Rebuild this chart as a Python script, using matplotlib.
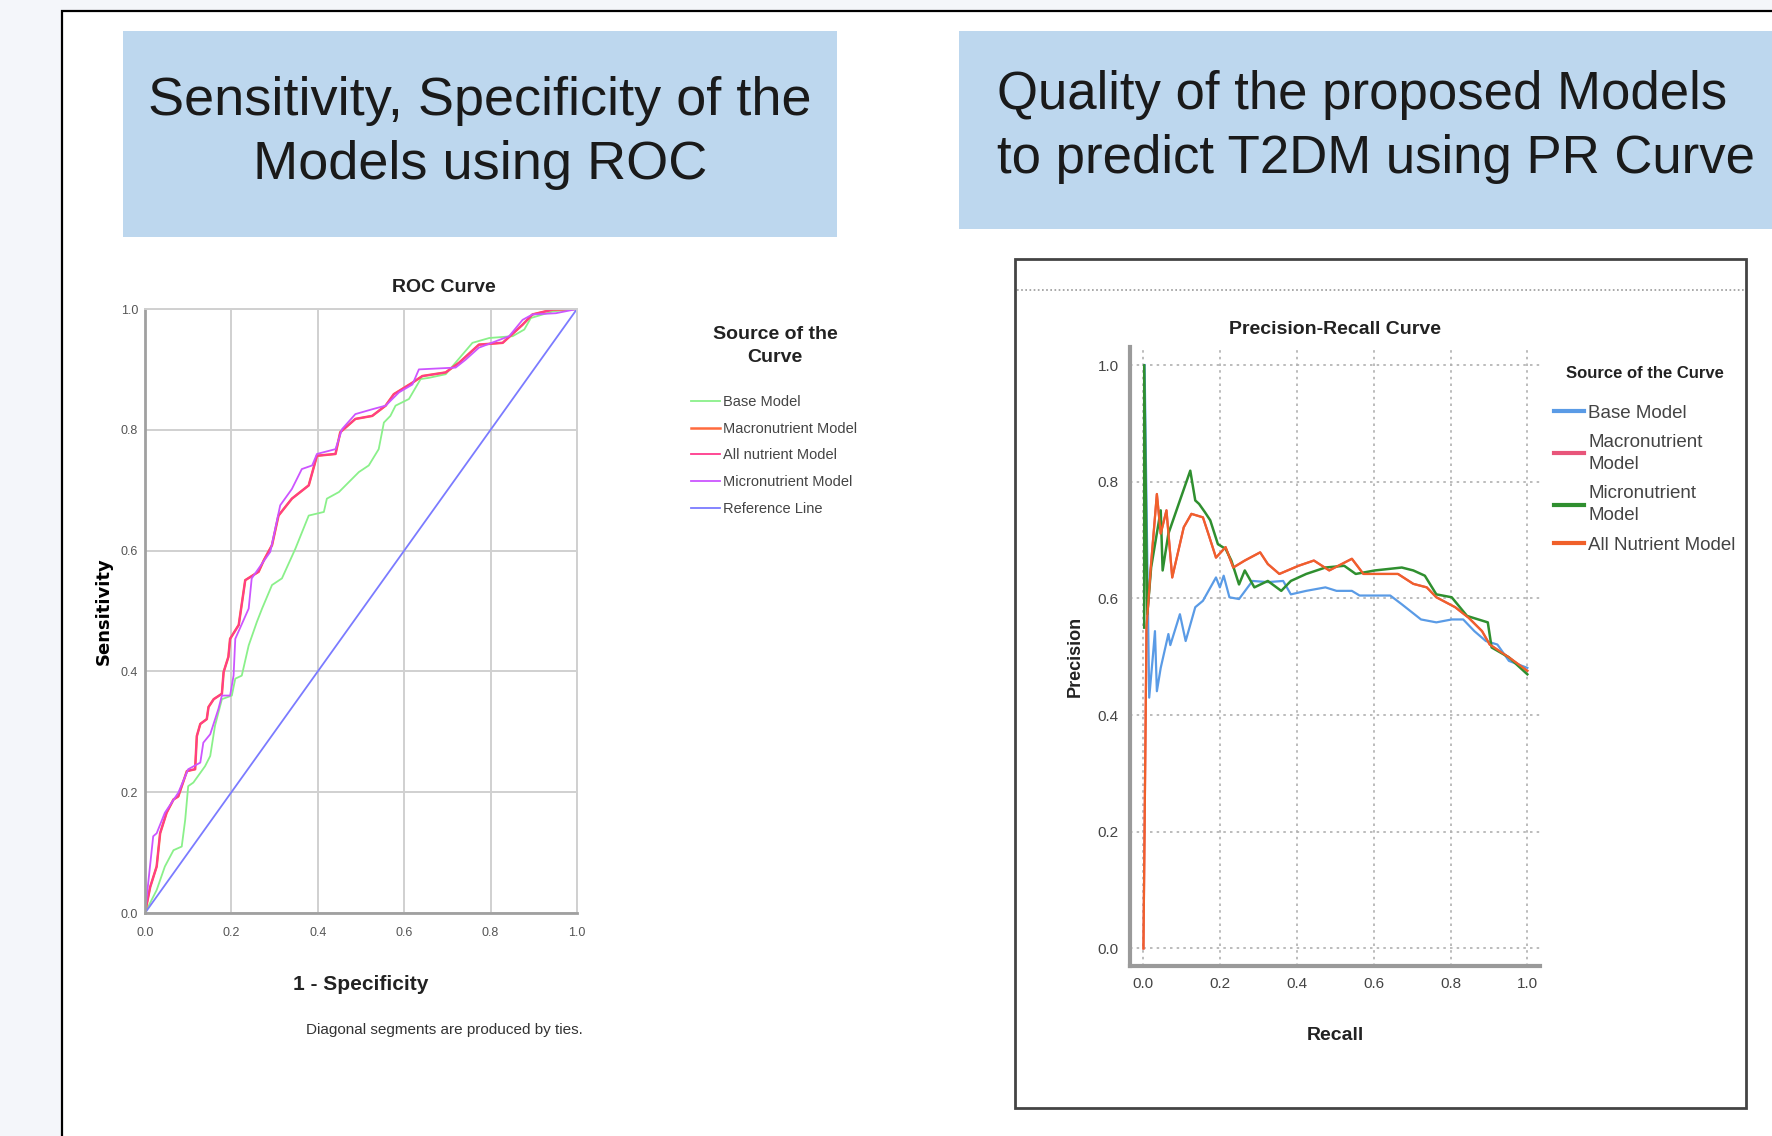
import matplotlib
matplotlib.use('Agg')
import matplotlib.pyplot as plt
from matplotlib.patches import Rectangle
from matplotlib.lines import Line2D

W, H = 1772, 1136

# ROC curves: (1 - specificity, sensitivity)
base_fpr = [0.0, 0.027, 0.046, 0.066, 0.085, 0.093, 0.100, 0.112, 0.139, 0.151, 0.162, 0.178,
            0.201, 0.209, 0.224, 0.240, 0.259, 0.271, 0.294, 0.317, 0.348, 0.379, 0.414, 0.421,
            0.449, 0.495, 0.518, 0.541, 0.553, 0.568, 0.580, 0.611, 0.638, 0.657, 0.696, 0.758,
            0.797, 0.851, 0.878, 0.893, 0.944, 1.0]
base_tpr = [0.0, 0.038, 0.077, 0.104, 0.110, 0.154, 0.210, 0.216, 0.243, 0.260, 0.310, 0.354,
            0.360, 0.388, 0.393, 0.443, 0.482, 0.504, 0.543, 0.554, 0.603, 0.658, 0.664, 0.686,
            0.697, 0.730, 0.741, 0.768, 0.812, 0.823, 0.840, 0.851, 0.884, 0.886, 0.892, 0.944,
            0.952, 0.955, 0.966, 0.985, 0.996, 1.0]

allnut_fpr = [0.0, 0.012, 0.027, 0.035, 0.050, 0.066, 0.077, 0.097, 0.116, 0.120, 0.128, 0.143,
              0.147, 0.159, 0.178, 0.182, 0.193, 0.197, 0.217, 0.232, 0.263, 0.275, 0.294, 0.309,
              0.340, 0.379, 0.398, 0.441, 0.452, 0.487, 0.526, 0.557, 0.576, 0.619, 0.642, 0.696,
              0.727, 0.773, 0.828, 0.874, 0.897, 0.944, 1.0]
allnut_tpr = [0.0, 0.043, 0.077, 0.132, 0.166, 0.188, 0.193, 0.235, 0.238, 0.293, 0.313, 0.321,
              0.341, 0.354, 0.363, 0.399, 0.424, 0.454, 0.477, 0.551, 0.565, 0.584, 0.609, 0.658,
              0.686, 0.708, 0.757, 0.760, 0.796, 0.818, 0.823, 0.840, 0.859, 0.878, 0.889, 0.895,
              0.911, 0.941, 0.944, 0.974, 0.991, 0.999, 1.0]

# macronutrient curve sits right under the all nutrient one
macro_fpr = allnut_fpr
macro_tpr = allnut_tpr

micro_fpr = [0.0, 0.019, 0.027, 0.046, 0.077, 0.100, 0.128, 0.135, 0.151, 0.170, 0.178, 0.197,
             0.205, 0.209, 0.240, 0.247, 0.290, 0.313, 0.340, 0.363, 0.387, 0.398, 0.441, 0.456,
             0.487, 0.526, 0.557, 0.588, 0.619, 0.634, 0.719, 0.742, 0.773, 0.843, 0.874, 0.897,
             0.951, 1.0]
micro_tpr = [0.0, 0.127, 0.132, 0.166, 0.199, 0.238, 0.249, 0.282, 0.296, 0.338, 0.360, 0.360,
             0.393, 0.454, 0.504, 0.554, 0.598, 0.675, 0.702, 0.735, 0.741, 0.760, 0.768, 0.801,
             0.826, 0.834, 0.840, 0.862, 0.875, 0.900, 0.903, 0.916, 0.936, 0.955, 0.982, 0.991,
             0.993, 1.0]

ref_line = [0.0, 1.0]

# precision-recall curves: (recall, precision)
base_recall = [0.003, 0.003, 0.015, 0.025, 0.030, 0.035, 0.045, 0.065, 0.070, 0.095, 0.110, 0.135,
               0.155, 0.189, 0.199, 0.209, 0.224, 0.249, 0.284, 0.324, 0.364, 0.384, 0.424, 0.474,
               0.503, 0.543, 0.563, 0.643, 0.673, 0.723, 0.763, 0.803, 0.833, 0.862, 0.892, 0.922,
               0.952, 1.0]
base_precision = [1.0, 1.0, 0.430, 0.504, 0.544, 0.441, 0.481, 0.539, 0.520, 0.573, 0.527, 0.585,
                  0.596, 0.636, 0.619, 0.639, 0.602, 0.599, 0.630, 0.628, 0.630, 0.607, 0.613, 0.619,
                  0.613, 0.613, 0.605, 0.605, 0.590, 0.564, 0.559, 0.564, 0.564, 0.544, 0.527, 0.521,
                  0.493, 0.481]

micro_recall = [0.002, 0.002, 0.010, 0.020, 0.045, 0.050, 0.065, 0.095, 0.122, 0.135, 0.145, 0.160,
                0.174, 0.194, 0.214, 0.229, 0.249, 0.264, 0.289, 0.324, 0.359, 0.384, 0.424, 0.474,
                0.523, 0.553, 0.603, 0.673, 0.703, 0.733, 0.763, 0.803, 0.843, 0.897, 0.907, 0.952,
                1.0]
micro_precision = [0.55, 1.0, 0.573, 0.653, 0.751, 0.648, 0.711, 0.768, 0.819, 0.768, 0.762, 0.748,
                   0.734, 0.693, 0.685, 0.665, 0.624, 0.648, 0.619, 0.630, 0.613, 0.630, 0.642, 0.653,
                   0.656, 0.642, 0.648, 0.653, 0.648, 0.639, 0.607, 0.602, 0.570, 0.559, 0.516, 0.499,
                   0.470]

allnut_recall = [0.0, 0.008, 0.020, 0.035, 0.045, 0.060, 0.075, 0.105, 0.125, 0.155, 0.169, 0.189,
                 0.214, 0.234, 0.264, 0.304, 0.324, 0.354, 0.404, 0.444, 0.484, 0.543, 0.573, 0.623,
                 0.663, 0.703, 0.738, 0.763, 0.812, 0.847, 0.882, 0.902, 0.952, 1.0]
allnut_precision = [0.0, 0.55, 0.660, 0.779, 0.711, 0.751, 0.636, 0.722, 0.745, 0.739, 0.711, 0.670,
                    0.688, 0.653, 0.665, 0.679, 0.659, 0.642, 0.656, 0.665, 0.648, 0.668, 0.642, 0.642,
                    0.642, 0.625, 0.619, 0.602, 0.585, 0.567, 0.544, 0.521, 0.499, 0.476]

# hidden underneath the all nutrient line
macro_recall = allnut_recall
macro_precision = allnut_precision

ticks = [0.0, 0.2, 0.4, 0.6, 0.8, 1.0]
tick_labels = ['0.0', '0.2', '0.4', '0.6', '0.8', '1.0']

plt.rcParams['font.family'] = ['Liberation Sans', 'DejaVu Sans']


def fx(x):
    return x / W


def fy(y):
    return 1 - y / H


fig = plt.figure(figsize=(W / 100, H / 100), dpi=100)
fig.patch.set_facecolor('#f4f6fa')

# white slide panel
fig.add_artist(Rectangle((fx(62), -0.02), 1.1, fy(11) + 0.02, transform=fig.transFigure,
                         facecolor='white', edgecolor='black', lw=1.6, zorder=-3))

# blue heading boxes
fig.add_artist(Rectangle((fx(123), fy(237)), fx(837 - 123), (237 - 31) / H,
                         transform=fig.transFigure, facecolor='#bdd7ee', edgecolor='none', zorder=-2))
fig.add_artist(Rectangle((fx(959), fy(229)), fx(1772 - 959) + 0.01, (229 - 31) / H,
                         transform=fig.transFigure, facecolor='#bdd7ee', edgecolor='none', zorder=-2))

fig.text(fx(480), fy(133), 'Sensitivity, Specificity of the\nModels using ROC', ha='center',
         va='center', fontsize=39, color='#1a1a1a', linespacing=1.35)
fig.text(fx(997), fy(127), 'Quality of the proposed Models\nto predict T2DM using PR Curve',
         ha='left', va='center', fontsize=38, color='#1a1a1a', linespacing=1.38)

# ---- ROC chart ----
ax1 = fig.add_axes([fx(145), fy(913), fx(577 - 145), (913 - 309) / H])
ax1.plot(base_fpr, base_tpr, color='#8af08a', lw=1.3, label='Base Model')
ax1.plot(macro_fpr, macro_tpr, color='#ff6a3d', lw=1.8, label='Macronutrient Model')
ax1.plot(allnut_fpr, allnut_tpr, color='#ff3a8c', lw=1.3, label='All nutrient Model')
ax1.plot(micro_fpr, micro_tpr, color='#cc55ff', lw=1.3, label='Micronutrient Model')
ax1.plot(ref_line, ref_line, color='#7b7bff', lw=1.3, label='Reference Line')
ax1.set_xlim(0, 1)
ax1.set_ylim(0, 1)
ax1.set_xticks(ticks)
ax1.set_yticks(ticks)
ax1.set_xticklabels(tick_labels)
ax1.set_yticklabels(tick_labels)
ax1.tick_params(length=0, labelsize=9, labelcolor='#555555')
ax1.tick_params(axis='x', pad=10)
ax1.tick_params(axis='y', pad=5)
ax1.grid(True, color='#d0d0d0', lw=1.4)
ax1.set_axisbelow(True)
for s in ['top', 'right']:
    ax1.spines[s].set_color('#d0d0d0')
    ax1.spines[s].set_linewidth(1.4)
for s in ['left', 'bottom']:
    ax1.spines[s].set_color('#a0a0a0')
    ax1.spines[s].set_linewidth(2)
fig.text(fx(444), fy(288), 'ROC Curve', ha='center', va='center', fontsize=14,
         fontweight='bold', color='#222222')
ax1.set_ylabel('Sensitivity', fontsize=13, fontweight='bold', family='DejaVu Sans', labelpad=6)
ax1.set_xlabel('1 - Specificity', fontsize=15, fontweight='bold', color='#222222', labelpad=26)
fig.text(fx(444), fy(1030), 'Diagonal segments are produced by ties.', ha='center', va='center',
         fontsize=11, color='#333333')

fig.text(fx(775), fy(346), 'Source of the\nCurve', ha='center', va='center', fontsize=14,
         fontweight='bold', color='#222222', linespacing=1.4)
leg1 = ax1.legend(loc='upper left', bbox_to_anchor=(fx(685), fy(389)),
                  bbox_transform=fig.transFigure, frameon=False, fontsize=10.5,
                  handlelength=2.0, handletextpad=0.2, labelspacing=0.88, borderaxespad=0)
for t in leg1.get_texts():
    t.set_color('#444444')

# ---- Precision-Recall chart ----
fig.add_artist(Rectangle((fx(1015), fy(1108)), fx(1746 - 1015), (1108 - 259) / H,
                         transform=fig.transFigure, facecolor='none', edgecolor='#444444', lw=2))
fig.add_artist(Line2D([fx(1017), fx(1744)], [fy(290), fy(290)], transform=fig.transFigure,
                      color='#999999', lw=1.2, ls=(0, (1, 1.5))))

ax2 = fig.add_axes([fx(1130), fy(966), fx(1540 - 1130), (966 - 347) / H])
ax2.plot(macro_recall, macro_precision, color='#e8557a', lw=1.6, label='Macronutrient\nModel')
ax2.plot(base_recall, base_precision, color='#5a9be6', lw=1.6, label='Base Model')
ax2.plot(micro_recall, micro_precision, color='#2f8f2f', lw=1.8, label='Micronutrient\nModel')
ax2.plot(allnut_recall, allnut_precision, color='#f0602a', lw=1.6, label='All Nutrient Model')
ax2.set_xlim(-0.035, 1.033)
ax2.set_ylim(-0.03, 1.031)
ax2.set_xticks(ticks)
ax2.set_yticks(ticks)
ax2.set_xticklabels(tick_labels)
ax2.set_yticklabels(tick_labels)
ax2.tick_params(length=0, labelsize=11, labelcolor='#444444', pad=8)
ax2.grid(True, color='#b0b0b0', lw=1.2, ls=(0, (1.5, 2.5)))
ax2.set_axisbelow(True)
for s in ['top', 'right']:
    ax2.spines[s].set_visible(False)
for s in ['left', 'bottom']:
    ax2.spines[s].set_color('#9a9a9a')
    ax2.spines[s].set_linewidth(3)
ax2.set_title('Precision-Recall Curve', fontsize=14, fontweight='bold', color='#222222', pad=9)
ax2.set_ylabel('Precision', fontsize=13, fontweight='bold', color='#222222', labelpad=10)
ax2.set_xlabel('Recall', fontsize=14, fontweight='bold', color='#222222', labelpad=26)

fig.text(fx(1645), fy(374), 'Source of the Curve', ha='center', va='center', fontsize=12,
         fontweight='bold', color='#222222')
handles, labels = ax2.get_legend_handles_labels()
order = [1, 0, 2, 3]
leg2 = ax2.legend([handles[i] for i in order], [labels[i] for i in order], loc='upper left',
                  bbox_to_anchor=(fx(1546), fy(397)), bbox_transform=fig.transFigure,
                  frameon=False, fontsize=13.5, handlelength=1.6, handletextpad=0.25,
                  labelspacing=0.65, borderaxespad=0)
for t in leg2.get_texts():
    t.set_color('#444444')
    t.set_linespacing(1.4)
for l in leg2.get_lines():
    l.set_linewidth(3)

fig.savefig('out.png', dpi=100, facecolor=fig.get_facecolor())
